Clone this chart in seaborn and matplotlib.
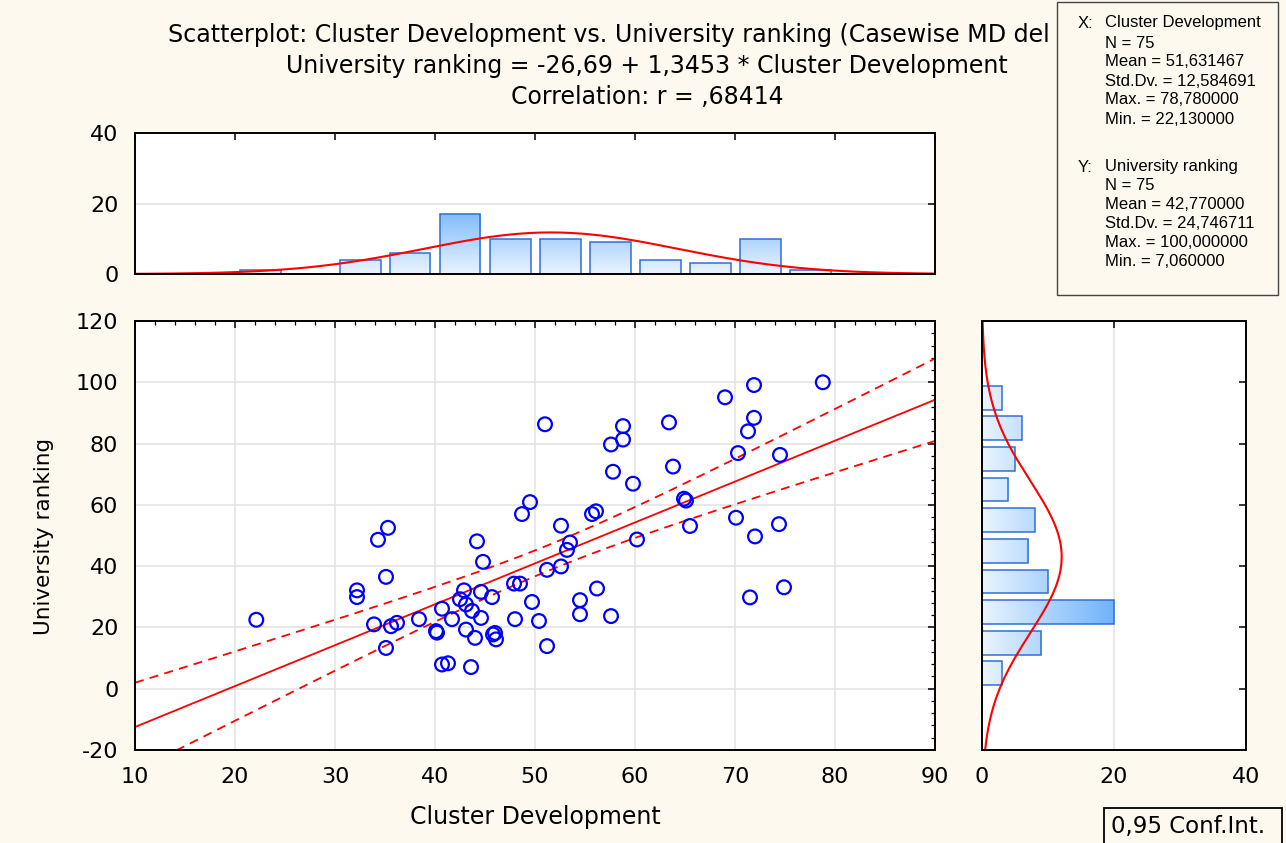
import numpy as np
import pandas as pd
import matplotlib
matplotlib.use("Agg")
import matplotlib.pyplot as plt
from matplotlib.patches import Rectangle
from matplotlib.ticker import AutoMinorLocator
from matplotlib.colors import LinearSegmentedColormap
import seaborn as sns

# ---------------- data ----------------
cluster_development = [
    22.13, 34.3, 35.3, 35.1, 32.2, 32.2, 33.9, 35.6, 36.2, 35.1,
    38.4, 40.1, 40.2, 40.7, 41.7, 40.7, 41.3, 43.6, 42.9, 42.5,
    43.1, 43.7, 44.6, 43.1, 44.0, 45.8, 46.0, 46.1, 44.2, 44.8,
    44.6, 45.7, 47.9, 48.5, 48.0, 49.7, 48.7, 49.5, 51.0, 50.4,
    51.2, 51.2, 52.6, 53.2, 53.5, 52.6, 54.5, 54.5, 56.2, 57.6,
    55.7, 56.1, 57.8, 59.8, 57.6, 58.8, 58.8, 60.2, 63.4, 63.8,
    64.9, 65.1, 65.5, 69.0, 71.9, 71.9, 71.3, 70.3, 70.1, 74.5,
    74.4, 72.0, 71.5, 74.9, 78.78,
]
university_ranking = [
    22.5, 48.6, 52.5, 36.5, 32.1, 29.9, 21.0, 20.4, 21.5, 13.3,
    22.7, 18.8, 18.3, 26.1, 22.7, 7.9, 8.3, 7.06, 32.1, 29.2,
    27.5, 25.4, 23.1, 19.3, 16.6, 17.7, 18.2, 16.1, 48.1, 41.4,
    31.6, 29.9, 34.3, 34.3, 22.7, 28.3, 57.0, 60.9, 86.3, 22.1,
    13.9, 38.8, 39.9, 45.3, 47.7, 53.2, 28.9, 24.3, 32.7, 23.7,
    57.0, 57.9, 70.8, 66.9, 79.7, 81.3, 85.7, 48.7, 86.9, 72.5,
    62.0, 61.4, 53.1, 95.1, 99.1, 88.4, 84.0, 76.9, 55.8, 76.3,
    53.7, 49.7, 29.8, 33.1, 100.0,
]

x_hist_edges = [15, 20, 25, 30, 35, 40, 45, 50, 55, 60, 65, 70, 75, 80]
y_hist_edges = [-10, 0, 10, 20, 30, 40, 50, 60, 70, 80, 90, 100]

main_x_ticks = [10, 20, 30, 40, 50, 60, 70, 80, 90]
main_y_ticks = [-20, 0, 20, 40, 60, 80, 100, 120]
hist_count_ticks = [0, 20, 40]

# first title line is shown cut off by the statistics box in the reference
title_lines = [
    "Scatterplot: Cluster Development vs. University ranking (Casewise MD del",
    "University ranking = -26,69 + 1,3453 * Cluster Development",
    "Correlation: r = ,68414",
]
x_label = "Cluster Development"
y_label = "University ranking"

stats_x_head = "X:"
stats_x_name = "Cluster Development"
stats_x_lines = ["N = 75", "Mean = 51,631467", "Std.Dv. = 12,584691",
                 "Max. = 78,780000", "Min. = 22,130000"]
stats_y_head = "Y:"
stats_y_name = "University ranking"
stats_y_lines = ["N = 75", "Mean = 42,770000", "Std.Dv. = 24,746711",
                 "Max. = 100,000000", "Min. = 7,060000"]
conf_label = "0,95 Conf.Int."
T_CRIT = 1.993  # t(0.975, df=73)

# ---------------- style ----------------
BG = "#FDF9EE"
RED = "#FF0000"
BLUE = "#0000FF"
EDGE = "#2F6FD8"
GRID = "#E2E2E2"

sns.set_style("white")
plt.rcParams["font.family"] = ["DejaVu Sans"]
plt.rcParams["axes.unicode_minus"] = False
plt.rcParams["text.color"] = "black"
plt.rcParams["axes.labelcolor"] = "black"
plt.rcParams["xtick.color"] = "black"
plt.rcParams["ytick.color"] = "black"

W, H = 1286, 843
fig = plt.figure(figsize=(W / 100, H / 100), dpi=100, facecolor=BG)


def rect(l, t, r, b):
    return [l / W, 1 - b / H, (r - l) / W, (b - t) / H]


ax_main = fig.add_axes(rect(135, 321, 935, 750))
ax_top = fig.add_axes(rect(135, 133, 935, 274))
ax_right = fig.add_axes(rect(982, 321, 1246, 750))

df = pd.DataFrame({"x": cluster_development, "y": university_ranking})
xs = df["x"].to_numpy()
ys = df["y"].to_numpy()
n = len(xs)

for ax in (ax_main, ax_top, ax_right):
    ax.set_facecolor("white")
    for s in ax.spines.values():
        s.set_color("black")
        s.set_linewidth(1.4)
        s.set_visible(True)
        s.set_zorder(5)

# ---------------- main scatter ----------------
XMIN, XMAX = 10, 90
YMIN, YMAX = -20, 120
ax_main.set_xlim(XMIN, XMAX)
ax_main.set_ylim(YMIN, YMAX)
ax_main.set_xticks(main_x_ticks)
ax_main.set_yticks(main_y_ticks)
ax_main.xaxis.set_minor_locator(AutoMinorLocator(5))
ax_main.yaxis.set_minor_locator(AutoMinorLocator(5))
ax_main.grid(True, which="major", color=GRID, lw=1.1)
ax_main.set_axisbelow(True)

slope, intercept = np.polyfit(xs, ys, 1)
resid = ys - (intercept + slope * xs)
s_e = np.sqrt(np.sum(resid ** 2) / (n - 2))
sxx = np.sum((xs - xs.mean()) ** 2)
grid_x = np.linspace(XMIN, XMAX, 200)
fit = intercept + slope * grid_x
half = T_CRIT * s_e * np.sqrt(1 / n + (grid_x - xs.mean()) ** 2 / sxx)

sns.lineplot(x=grid_x, y=fit, color=RED, lw=1.3, ax=ax_main, zorder=3)
sns.lineplot(x=grid_x, y=fit + half, color=RED, lw=1.3, ax=ax_main,
             linestyle=(0, (5, 3.5)), zorder=3)
sns.lineplot(x=grid_x, y=fit - half, color=RED, lw=1.3, ax=ax_main,
             linestyle=(0, (5, 3.5)), zorder=3)

sns.scatterplot(data=df, x="x", y="y", ax=ax_main, marker="o", s=98,
                facecolor="none", edgecolor=BLUE, linewidth=1.6, zorder=4)
ax_main.set_xlabel("")
ax_main.set_ylabel("")
ax_main.tick_params(which="major", direction="in", length=5, width=1.1,
                    top=True, right=True, labelsize=16, pad=12, colors="black")
ax_main.tick_params(which="minor", direction="in", length=3, width=0.9,
                    top=True, right=True)

# ---------------- gradient helper ----------------
cmap = LinearSegmentedColormap.from_list("bars", ["#EAF4FF", "#6FB3FA"])


def gradient_bars(ax, horizontal, extent):
    if horizontal:
        g = np.clip(np.linspace(extent[0], extent[1], 256) / 20, 0, 1)[None, :]
    else:
        g = np.clip(np.linspace(extent[2], extent[3], 256) / 20, 0, 1)[:, None]
    for p in list(ax.patches):
        p.set_facecolor("none")
        p.set_edgecolor(EDGE)
        p.set_linewidth(1.1)
        p.set_zorder(3)
        im = ax.imshow(g, extent=extent, origin="lower", cmap=cmap, vmin=0,
                       vmax=1, aspect="auto", zorder=2, interpolation="bilinear")
        im.set_clip_path(p)


# ---------------- top histogram ----------------
sns.histplot(x=xs, bins=x_hist_edges, shrink=0.82, ax=ax_top, stat="count",
             element="bars", fill=True)
gradient_bars(ax_top, False, [XMIN, XMAX, 0, 40])
mx, sx = xs.mean(), xs.std(ddof=1)
gx = np.linspace(XMIN, XMAX, 300)
pdf_x = n * 5 * np.exp(-0.5 * ((gx - mx) / sx) ** 2) / (sx * np.sqrt(2 * np.pi))
sns.lineplot(x=gx, y=pdf_x, color=RED, lw=1.5, ax=ax_top, zorder=4)
ax_top.set_xlim(XMIN, XMAX)
ax_top.set_ylim(0, 40)
ax_top.set_xticks(main_x_ticks)
ax_top.set_yticks(hist_count_ticks)
ax_top.yaxis.grid(True, color=GRID, lw=1.1)
ax_top.set_axisbelow(True)
ax_top.tick_params(direction="in", length=5, width=1.1, top=True, right=True,
                   labelbottom=False, labelsize=16, pad=12)
ax_top.set_xlabel("")
ax_top.set_ylabel("")

# ---------------- right histogram ----------------
sns.histplot(y=ys, bins=y_hist_edges, shrink=0.78, ax=ax_right, stat="count",
             element="bars", fill=True)
gradient_bars(ax_right, True, [0, 40, YMIN, YMAX])
my, sy = ys.mean(), ys.std(ddof=1)
gy = np.linspace(YMIN, YMAX, 300)
pdf_y = n * 10 * np.exp(-0.5 * ((gy - my) / sy) ** 2) / (sy * np.sqrt(2 * np.pi))
sns.lineplot(x=pdf_y, y=gy, color=RED, lw=1.5, ax=ax_right, sort=False,
             estimator=None, zorder=4)
ax_right.set_xlim(0, 40)
ax_right.set_ylim(YMIN, YMAX)
ax_right.set_xticks(hist_count_ticks)
ax_right.set_yticks(main_y_ticks)
ax_right.xaxis.grid(True, color=GRID, lw=1.1)
ax_right.set_axisbelow(True)
ax_right.tick_params(direction="in", length=5, width=1.1, top=True, right=True,
                     labelleft=False, labelsize=16, pad=12)
ax_right.set_xlabel("")
ax_right.set_ylabel("")

# ---------------- texts ----------------
fig.text(535 / W, 1 - 817 / H, x_label, ha="center", va="center", fontsize=17)
fig.text(44 / W, 1 - 536 / H, y_label, ha="center", va="center",
         rotation=90, fontsize=15.5)

fig.text(168 / W, 1 - 35 / H, title_lines[0], ha="left", va="center",
         fontsize=17.1, zorder=3)
for i, line in enumerate(title_lines[1:], start=1):
    fig.text(647 / W, 1 - (35 + 31 * i) / H, line, ha="center", va="center",
             fontsize=17, zorder=3)

# statistics box (drawn over the end of the title, as in the reference)
fig.patches.append(Rectangle((1057 / W, 1 - 295 / H), 221 / W, 293 / H,
                             transform=fig.transFigure, facecolor=BG,
                             edgecolor="#444444", lw=1.0, zorder=10))
box_font = dict(fontsize=12, family=["Liberation Sans", "DejaVu Sans"],
                va="center", zorder=11)
fig.text(1078 / W, 1 - 23 / H, stats_x_head, ha="left", **box_font)
fig.text(1105 / W, 1 - 23 / H, stats_x_name, ha="left", **box_font)
for i, line in enumerate(stats_x_lines):
    fig.text(1105 / W, 1 - (43 + 19 * i) / H, line, ha="left", **box_font)
fig.text(1078 / W, 1 - 167 / H, stats_y_head, ha="left", **box_font)
fig.text(1105 / W, 1 - 167 / H, stats_y_name, ha="left", **box_font)
for i, line in enumerate(stats_y_lines):
    fig.text(1105 / W, 1 - (186 + 18.8 * i) / H, line, ha="left", **box_font)

# confidence-interval legend box
fig.patches.append(Rectangle((1104 / W, -0.01), 178 / W, (843 - 808) / H + 0.01,
                             transform=fig.transFigure, facecolor=BG,
                             edgecolor="black", lw=1.3, zorder=10))
fig.text(1111 / W, 1 - 827 / H, conf_label, ha="left", va="center",
         fontsize=16.5, zorder=11)

fig.savefig("out.png", dpi=100, facecolor=BG)
